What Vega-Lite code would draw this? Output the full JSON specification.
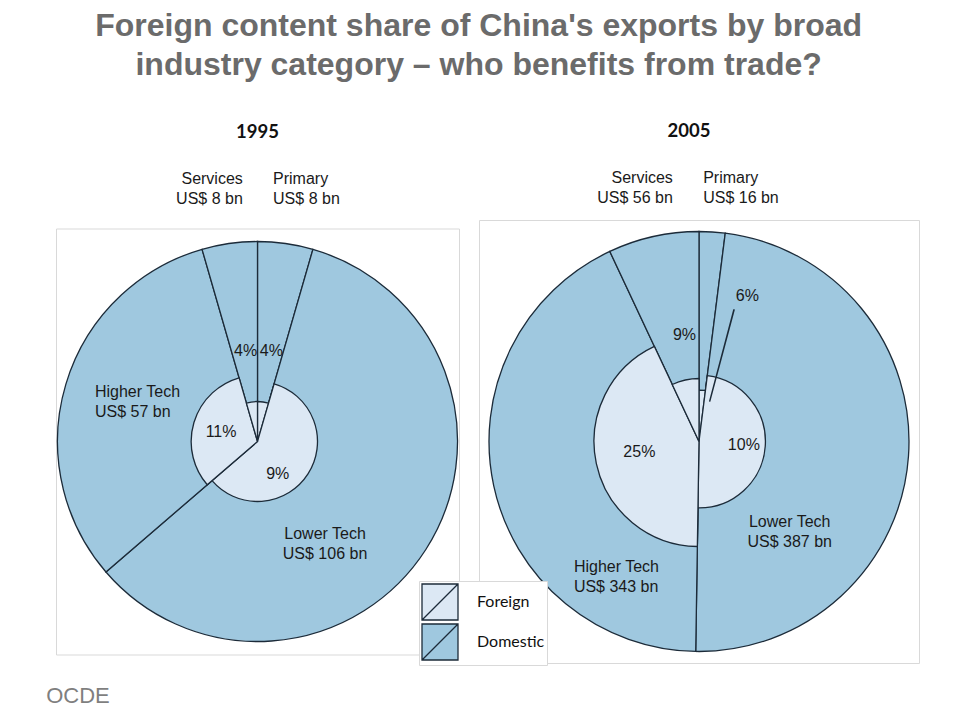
{
  "$schema": "https://vega.github.io/schema/vega-lite/v6.json",
  "padding": {"left": 45, "top": 10, "right": 0, "bottom": 0},
  "background": "white",
  "title": {
    "text": ["Foreign content share of China's exports by broad", "industry category – who benefits from trade?"],
    "font": "Liberation Sans",
    "fontWeight": "bold",
    "fontSize": 32,
    "lineHeight": 39,
    "color": "#6b6b6b",
    "anchor": "middle",
    "frame": "bounds",
    "offset": 39,
    "dx": -4
  },
  "datasets": {
    "y1995": [
      {"category": "Primary", "order": 1, "value": 8, "share": 0.04, "name": "Primary\nUS$ 8 bn", "pct": "4%"},
      {"category": "Lower Tech", "order": 2, "value": 106, "share": 0.09, "name": "Lower Tech\nUS$ 106 bn", "pct": "9%"},
      {"category": "Higher Tech", "order": 3, "value": 57, "share": 0.11, "name": "Higher Tech\nUS$ 57 bn", "pct": "11%"},
      {"category": "Services", "order": 4, "value": 8, "share": 0.04, "name": "Services\nUS$ 8 bn", "pct": "4%"}
    ],
    "y2005": [
      {"category": "Primary", "order": 1, "value": 16, "share": 0.06, "name": "Primary\nUS$ 16 bn", "pct": "6%"},
      {"category": "Lower Tech", "order": 2, "value": 387, "share": 0.10, "name": "Lower Tech\nUS$ 387 bn", "pct": "10%"},
      {"category": "Higher Tech", "order": 3, "value": 343, "share": 0.25, "name": "Higher Tech\nUS$ 343 bn", "pct": "25%"},
      {"category": "Services", "order": 4, "value": 56, "share": 0.09, "name": "Services\nUS$ 56 bn", "pct": "9%"}
    ]
  },
  "spacing": 20,
  "bounds": "flush",
  "center": true,
  "hconcat": [
    {
      "width": 403,
      "height": 426,
      "view": {"stroke": "#d9d9d9", "strokeWidth": 1},
      "title": {"text": "1995", "offset": 29},
      "data": {"name": "y1995"},
      "transform": [{"stack": "value", "groupby": [], "sort": [{"field": "order", "order": "ascending"}], "as": ["v0", "v1"]}],
      "encoding": {"theta": {"field": "v0", "type": "quantitative", "scale": {"domain": [0, 179], "zero": true}}},
      "layer": [
        {
          "mark": {"type": "arc", "radius": 200, "stroke": "#1c2b39", "strokeWidth": 1.3},
          "encoding": {
            "theta2": {"field": "v1"},
            "color": {
              "datum": "Domestic", "type": "nominal",
              "scale": {"domain": ["Foreign", "Domestic"], "range": ["#dce8f4", "#9fc8df"]},
              "legend": {
                "title": null, "orient": "none", "legendX": 363, "legendY": 361,
                "symbolType": "M-1,-1H1V1H-1Z M-1,1L1,-1", "symbolSize": 1296,
                "symbolStrokeColor": "#1c2b39", "symbolStrokeWidth": 1.3, "symbolOpacity": 1,
                "labelFont": "Lato", "labelFontSize": 16, "labelColor": "#111111", "labelOffset": 18,
                "rowPadding": -8, "padding": 2, "strokeColor": "#d9d9d9", "fillColor": "white"
              }
            }
          }
        },
        {
          "mark": {"type": "arc", "stroke": "#1c2b39", "strokeWidth": 1.3},
          "encoding": {
            "theta2": {"field": "v1"},
            "radius": {"field": "share", "type": "quantitative", "scale": {"type": "sqrt", "zero": true, "domain": [0, 1], "range": [0, 200]}},
            "color": {"datum": "Foreign", "type": "nominal"}
          }
        },
        {
          "transform": [{"filter": "datum.category === 'Services'"}],
          "mark": {"type": "text", "radius": 257, "thetaOffset": 0.14041, "align": "right", "dx": 21.3, "dy": -8.5},
          "encoding": {"text": {"field": "name"}}
        },
        {
          "transform": [{"filter": "datum.category === 'Primary'"}],
          "mark": {"type": "text", "radius": 257, "thetaOffset": 0.14041, "align": "left", "dx": -20.4, "dy": -8.5},
          "encoding": {"text": {"field": "name"}}
        },
        {
          "transform": [{"filter": "datum.category === 'Higher Tech'"}],
          "mark": {"type": "text", "radius": 167, "thetaOffset": 1.0004, "align": "left", "dx": -2.5, "dy": -2},
          "encoding": {"text": {"field": "name"}}
        },
        {
          "transform": [{"filter": "datum.category === 'Lower Tech'"}],
          "mark": {"type": "text", "radius": 121, "thetaOffset": 1.86039, "align": "center", "dx": -34.3, "dy": 27},
          "encoding": {"text": {"field": "name"}}
        },
        {
          "transform": [{"filter": "datum.category === 'Services'"}],
          "mark": {"type": "text", "radius": 92, "thetaOffset": 0.14041, "align": "center", "dx": 1, "dy": 1},
          "encoding": {"text": {"field": "pct"}}
        },
        {
          "transform": [{"filter": "datum.category === 'Primary'"}],
          "mark": {"type": "text", "radius": 92, "thetaOffset": 0.14041, "align": "center", "dx": 1, "dy": 1},
          "encoding": {"text": {"field": "pct"}}
        },
        {
          "transform": [{"filter": "datum.category === 'Higher Tech'"}],
          "mark": {"type": "text", "radius": 38, "thetaOffset": 1.0004, "align": "center", "dy": 1.5},
          "encoding": {"text": {"field": "pct"}}
        },
        {
          "transform": [{"filter": "datum.category === 'Lower Tech'"}],
          "mark": {"type": "text", "radius": 37, "thetaOffset": 1.86039, "align": "center", "dx": -10.9, "dy": 12.5},
          "encoding": {"text": {"field": "pct"}}
        },
        {
          "transform": [{"filter": "datum.category === 'Primary'"}],
          "mark": {"type": "text", "radius": 0, "align": "center", "dx": -179.5, "dy": 254, "font": "Liberation Sans", "fontSize": 22, "color": "#7f7f7f", "text": "OCDE"},
          "encoding": {}
        }
      ]
    },
    {
      "width": 440,
      "height": 443,
      "view": {"stroke": "#d9d9d9", "strokeWidth": 1},
      "title": {"text": "2005", "offset": 30, "dx": -10},
      "data": {"name": "y2005"},
      "transform": [{"stack": "value", "groupby": [], "sort": [{"field": "order", "order": "ascending"}], "as": ["v0", "v1"]}],
      "encoding": {"theta": {"field": "v0", "type": "quantitative", "scale": {"domain": [0, 802], "zero": true}}},
      "layer": [
        {
          "mark": {"type": "arc", "radius": 210, "stroke": "#1c2b39", "strokeWidth": 1.3},
          "encoding": {
            "theta2": {"field": "v1"},
            "color": {"datum": "Domestic", "type": "nominal"}
          }
        },
        {
          "mark": {"type": "arc", "stroke": "#1c2b39", "strokeWidth": 1.3},
          "encoding": {
            "theta2": {"field": "v1"},
            "radius": {"field": "share", "type": "quantitative", "scale": {"type": "sqrt", "zero": true, "domain": [0, 1], "range": [0, 210]}},
            "color": {"datum": "Foreign", "type": "nominal"}
          }
        },
        {
          "transform": [{"filter": "datum.category === 'Services'"}],
          "mark": {"type": "text", "radius": 258, "thetaOffset": 0.21936, "align": "right", "dx": 30, "dy": -11.5},
          "encoding": {"text": {"field": "name"}}
        },
        {
          "transform": [{"filter": "datum.category === 'Primary'"}],
          "mark": {"type": "text", "radius": 258, "thetaOffset": 0.06268, "align": "left", "dx": -12, "dy": -6},
          "encoding": {"text": {"field": "name"}}
        },
        {
          "transform": [{"filter": "datum.category === 'Higher Tech'"}],
          "mark": {"type": "text", "radius": 130, "thetaOffset": 1.3436, "align": "left", "dx": 2, "dy": 98},
          "encoding": {"text": {"field": "name"}}
        },
        {
          "transform": [{"filter": "datum.category === 'Lower Tech'"}],
          "mark": {"type": "text", "radius": 130, "thetaOffset": 1.51596, "align": "center", "dx": -39, "dy": 71},
          "encoding": {"text": {"field": "name"}}
        },
        {
          "transform": [{"filter": "datum.category === 'Services'"}],
          "mark": {"type": "text", "radius": 106, "thetaOffset": 0.21936, "align": "center", "dx": 8.6, "dy": -3},
          "encoding": {"text": {"field": "pct"}}
        },
        {
          "transform": [{"filter": "datum.category === 'Primary'"}],
          "mark": {"type": "text", "radius": 150, "thetaOffset": 0.06268, "align": "center", "dx": 39, "dy": 4.5},
          "encoding": {"text": {"field": "pct"}}
        },
        {
          "transform": [{"filter": "datum.category === 'Higher Tech'"}],
          "mark": {"type": "text", "radius": 61, "thetaOffset": 1.3436, "align": "center", "dy": -2},
          "encoding": {"text": {"field": "pct"}}
        },
        {
          "transform": [{"filter": "datum.category === 'Lower Tech'"}],
          "mark": {"type": "text", "radius": 45, "thetaOffset": 1.51596, "align": "center", "dy": 0},
          "encoding": {"text": {"field": "pct"}}
        },
        {
          "transform": [{"filter": "datum.category === 'Primary'"}],
          "mark": {"type": "arc", "radius": 136, "radius2": 42, "filled": false, "stroke": "#1c2b39", "strokeWidth": 1.4},
          "encoding": {"theta": {"datum": 33}, "theta2": {"datum": 33.3}}
        }
      ]
    }
  ],
  "resolve": {"scale": {"theta": "independent", "radius": "independent", "color": "shared"}},
  "config": {
    "title": {"font": "Lato", "fontWeight": "bold", "fontSize": 18.5, "color": "#111111", "anchor": "middle"},
    "text": {"font": "Liberation Sans", "fontSize": 16, "color": "#1a1a1a", "baseline": "middle", "lineBreak": "\n", "lineHeight": 20}
  }
}
